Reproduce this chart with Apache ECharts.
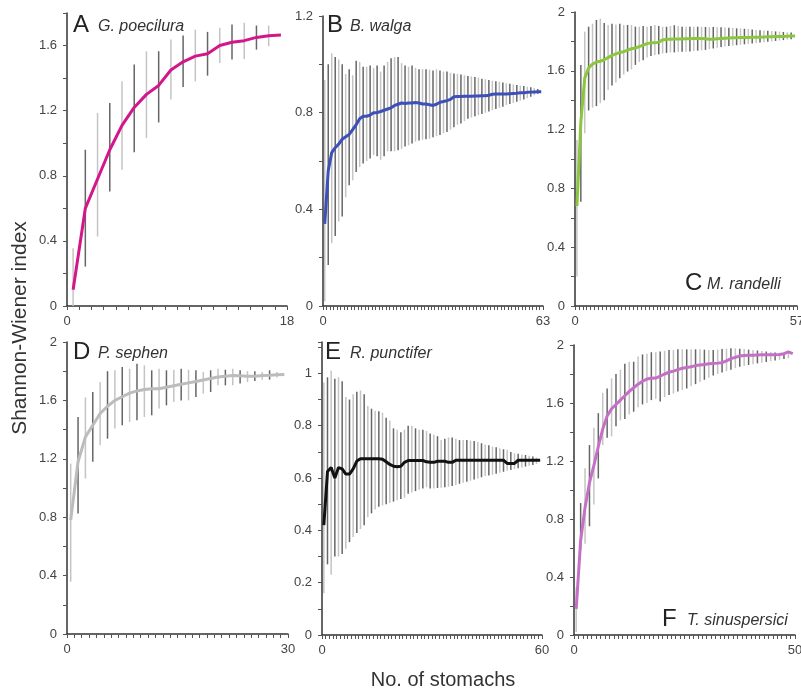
<!DOCTYPE html>
<html><head><meta charset="utf-8">
<script src="https://cdn.jsdelivr.net/npm/echarts@6/dist/echarts.min.js"></script>
<style>html,body{margin:0;padding:0;background:#fff}#c{width:801px;height:695px}</style>
</head><body><div id="c"></div>
<script>
// ---- Data (Shannon-Wiener cumulative curves; mean and error-bar ends) ----
const A_mean = [0.10,0.60,0.78,0.96,1.11,1.22,1.30,1.355,1.45,1.50,1.535,1.55,1.60,1.62,1.63,1.65,1.66,1.665];
const A_hi = [0.355,0.96,1.186,1.247,1.38,1.483,1.565,1.565,1.637,1.662,1.698,1.684,1.709,1.729,1.74,1.723,1.723];
const A_lo = [0.0,0.242,0.427,0.704,0.837,0.944,1.032,1.128,1.268,1.346,1.38,1.415,1.493,1.514,1.518,1.575,1.596];

const B_mean = [0.34,0.56,0.635,0.655,0.67,0.69,0.70,0.71,0.73,0.75,
 0.775,0.785,0.785,0.79,0.80,0.80,0.805,0.81,0.815,0.82,
 0.83,0.835,0.84,0.838,0.84,0.84,0.842,0.84,0.836,0.836,
 0.833,0.83,0.835,0.843,0.846,0.85,0.855,0.866,0.867,0.867,
 0.868,0.868,0.868,0.869,0.869,0.87,0.87,0.872,0.876,0.877,
 0.877,0.877,0.877,0.878,0.879,0.88,0.882,0.882,0.884,0.885,
 0.886,0.887,0.887];
const B_hi = [0.935,1.00,1.045,1.03,1.02,1.00,0.96,0.98,0.955,1.015,
 1.01,0.99,0.99,0.995,0.985,0.995,0.97,0.995,1.01,1.025,
 1.03,1.03,1.005,0.995,0.99,0.995,0.985,0.98,0.98,0.98,
 0.978,0.975,0.98,0.975,0.97,0.97,0.965,0.962,0.96,0.958,
 0.955,0.952,0.95,0.948,0.945,0.94,0.938,0.935,0.932,0.93,
 0.928,0.925,0.922,0.92,0.917,0.914,0.912,0.91,0.907,0.905,0.902,0.898];
const B_lo = [0.02,0.17,0.26,0.29,0.35,0.37,0.45,0.50,0.52,0.555,
 0.575,0.59,0.60,0.61,0.625,0.62,0.605,0.62,0.64,0.64,
 0.64,0.645,0.65,0.66,0.665,0.672,0.68,0.685,0.688,0.69,
 0.692,0.698,0.703,0.708,0.715,0.72,0.73,0.74,0.75,0.755,
 0.765,0.775,0.78,0.785,0.79,0.795,0.80,0.805,0.81,0.815,
 0.82,0.825,0.832,0.836,0.84,0.845,0.85,0.855,0.86,0.866,0.872,0.878];

const C_mean = [0.68,1.25,1.55,1.62,1.645,1.66,1.665,1.675,1.69,1.705,
 1.715,1.725,1.73,1.74,1.75,1.755,1.765,1.775,1.785,1.79,
 1.79,1.795,1.81,1.815,1.815,1.816,1.817,1.817,1.818,1.818,
 1.82,1.82,1.82,1.818,1.815,1.814,1.818,1.82,1.822,1.823,
 1.824,1.825,1.826,1.826,1.827,1.828,1.828,1.829,1.83,1.831,
 1.832,1.833,1.834,1.834,1.835,1.836,1.837];
const C_hi = [1.13,1.64,1.866,1.90,1.92,1.946,1.955,1.925,1.912,1.92,
 1.915,1.92,1.912,1.912,1.912,1.90,1.90,1.905,1.90,1.905,
 1.912,1.905,1.90,1.90,1.905,1.91,1.905,1.90,1.90,1.90,
 1.90,1.90,1.90,1.898,1.898,1.898,1.897,1.897,1.895,1.893,
 1.891,1.889,1.888,1.886,1.884,1.881,1.878,1.876,1.874,1.872,
 1.87,1.868,1.866,1.864,1.862,1.86];
const C_lo = [0.20,0.71,1.175,1.33,1.35,1.36,1.38,1.40,1.47,1.50,
 1.52,1.55,1.575,1.595,1.61,1.64,1.66,1.672,1.69,1.70,
 1.707,1.712,1.718,1.722,1.725,1.725,1.728,1.73,1.73,1.732,
 1.735,1.737,1.74,1.742,1.748,1.752,1.757,1.762,1.765,1.768,
 1.771,1.774,1.777,1.78,1.783,1.786,1.789,1.792,1.795,1.798,
 1.80,1.803,1.806,1.809,1.812,1.815];

const D_mean = [0.78,1.18,1.35,1.43,1.51,1.56,1.60,1.625,1.65,1.665,
 1.675,1.68,1.68,1.69,1.70,1.71,1.72,1.73,1.74,1.75,
 1.76,1.765,1.77,1.768,1.765,1.765,1.77,1.772,1.775,1.778];
const D_hi = [1.167,1.487,1.62,1.657,1.726,1.80,1.806,1.829,1.817,1.851,
 1.84,1.806,1.817,1.806,1.81,1.817,1.81,1.806,1.794,1.806,
 1.817,1.81,1.817,1.806,1.80,1.80,1.794,1.806,1.794];
const D_lo = [0.358,0.825,1.065,1.18,1.293,1.338,1.407,1.43,1.452,1.464,
 1.486,1.498,1.544,1.566,1.589,1.60,1.60,1.623,1.646,1.657,
 1.703,1.703,1.703,1.715,1.726,1.733,1.742,1.742,1.756];

const E_mean = [0.42,0.625,0.64,0.60,0.64,0.635,0.615,0.615,0.635,0.665,
 0.674,0.674,0.674,0.674,0.674,0.674,0.672,0.662,0.652,0.645,
 0.643,0.645,0.66,0.667,0.667,0.667,0.667,0.667,0.662,0.66,
 0.66,0.664,0.664,0.664,0.66,0.66,0.668,0.668,0.668,0.668,
 0.668,0.668,0.668,0.668,0.668,0.668,0.668,0.668,0.668,0.668,
 0.656,0.656,0.656,0.668,0.668,0.668,0.668,0.668,0.668,0.668];
const E_hi = [0.965,0.985,1.01,0.98,0.985,0.97,0.91,0.90,0.92,0.93,
 0.935,0.92,0.875,0.865,0.857,0.855,0.85,0.83,0.82,0.79,
 0.785,0.775,0.785,0.80,0.80,0.79,0.785,0.785,0.78,0.77,
 0.765,0.76,0.745,0.75,0.755,0.755,0.75,0.745,0.745,0.745,
 0.743,0.742,0.738,0.733,0.728,0.725,0.72,0.718,0.714,0.71,
 0.708,0.70,0.695,0.693,0.69,0.688,0.685,0.682,0.678];
const E_lo = [0.16,0.27,0.23,0.30,0.30,0.31,0.33,0.355,0.375,0.39,
 0.405,0.42,0.45,0.465,0.48,0.49,0.495,0.50,0.505,0.51,
 0.515,0.52,0.525,0.54,0.545,0.55,0.555,0.56,0.565,0.56,
 0.56,0.562,0.563,0.565,0.567,0.57,0.573,0.578,0.582,0.586,
 0.59,0.594,0.598,0.603,0.608,0.61,0.613,0.616,0.62,0.624,
 0.628,0.631,0.634,0.637,0.64,0.644,0.647,0.65,0.654];

const F_mean = [0.18,0.65,0.88,1.05,1.17,1.30,1.42,1.51,1.56,1.59,
 1.62,1.65,1.68,1.705,1.73,1.75,1.765,1.77,1.772,1.785,
 1.80,1.812,1.82,1.83,1.84,1.845,1.85,1.858,1.862,1.866,
 1.87,1.873,1.875,1.878,1.89,1.906,1.915,1.924,1.927,1.929,
 1.93,1.931,1.932,1.932,1.932,1.933,1.935,1.94,1.952,1.94];
const F_hi = [0.33,0.91,1.15,1.31,1.43,1.53,1.67,1.70,1.77,1.80,
 1.83,1.87,1.885,1.885,1.92,1.935,1.94,1.95,1.95,1.955,
 1.96,1.965,1.965,1.97,1.97,1.97,1.97,1.97,1.97,1.968,
 1.966,1.965,1.968,1.972,1.975,1.977,1.977,1.975,1.972,1.968,
 1.965,1.962,1.958,1.955,1.952,1.948,1.945,1.945,1.948];
const F_lo = [0.02,0.59,0.63,0.75,0.90,1.08,1.31,1.36,1.37,1.44,
 1.48,1.49,1.52,1.54,1.57,1.59,1.60,1.62,1.63,1.61,
 1.64,1.655,1.665,1.68,1.69,1.70,1.715,1.73,1.745,1.76,
 1.775,1.79,1.80,1.81,1.82,1.83,1.84,1.85,1.856,1.862,
 1.868,1.873,1.878,1.883,1.888,1.893,1.898,1.903,1.908];

const letters = ['A','B','C','D','E','F'];
const species = ['G. poecilura','B. walga','M. randelli','P. sephen','R. punctifer','T. sinuspersici'];
const yMax = [1.8,1.2,2,2,1.12,2];
const yTick = [0.2,0.2,0.2,0.2,0.1,0.2];
const yLabelStep = [0.4,0.4,0.4,0.4,0.2,0.4];
const yTitle = 'Shannon-Wiener index';
const xTitle = 'No. of stomachs';

// ---- Layout / style ----
const means = [A_mean,B_mean,C_mean,D_mean,E_mean,F_mean];
const his = [A_hi,B_hi,C_hi,D_hi,E_hi,F_hi];
const los = [A_lo,B_lo,C_lo,D_lo,E_lo,F_lo];
const colors = ['#d4168b','#3d4fb8','#8cc63e','#bcbcbc','#111111','#c56fc6'];
const gridPos = [
  {left:67, top:13, width:220, height:293},
  {left:323, top:16, width:220, height:290},
  {left:575, top:12, width:222, height:294},
  {left:67, top:342, width:221, height:292},
  {left:322, top:342, width:220, height:293},
  {left:574, top:345, width:221, height:290}
];
const labelPos = [
  {lx:73, ly:25, sx:98, sy:27},
  {lx:327, ly:25, sx:350, sy:27},
  {lx:685, ly:283, sx:707, sy:285},
  {lx:73, ly:352, sx:98, sy:354},
  {lx:325, ly:352, sx:350, sy:354},
  {lx:662, ly:619, sx:687, sy:621}
];
const FONT = '"Liberation Sans", Arial, Helvetica, sans-serif';

const grids=[], xAxes=[], yAxes=[], series=[], graphics=[];
means.forEach((mean,i)=>{
  const n = mean.length;
  grids.push(Object.assign({containLabel:false, outerBoundsMode:'none'}, gridPos[i]));
  xAxes.push({
    type:'value', gridIndex:i, min:0, max:n, interval:1,
    axisLine:{show:true, onZero:false, lineStyle:{color:'#333', width:1.5}},
    axisTick:{show:true, length:4, lineStyle:{color:'#555', width:1}},
    axisLabel:{margin:9, color:'#444', fontSize:13, fontFamily:FONT,
      formatter:v => (v===0 || v===n) ? String(v) : ''},
    splitLine:{show:false}
  });
  const step = yLabelStep[i];
  yAxes.push({
    type:'value', gridIndex:i, min:0, max:yMax[i], interval:yTick[i],
    axisLine:{show:true, onZero:false, lineStyle:{color:'#333', width:1.5}},
    axisTick:{show:true, length:4, lineStyle:{color:'#555', width:1}},
    axisLabel:{margin:10, color:'#444', fontSize:13, fontFamily:FONT,
      formatter:v => { const r=v/step; return Math.abs(r-Math.round(r))<1e-6 ? String(+v.toFixed(2)) : ''; }},
    splitLine:{show:false}
  });
  series.push({
    type:'custom', xAxisIndex:i, yAxisIndex:i, silent:true, z:1,
    encode:{x:0, y:[1,2]},
    data: los[i].map((lo,k)=>[k+0.5, lo, his[i][k]]),
    renderItem:(params, api)=>{
      const x = api.value(0);
      const p0 = api.coord([x, api.value(1)]);
      const p1 = api.coord([x, api.value(2)]);
      return {type:'line', shape:{x1:p0[0], y1:p0[1], x2:p1[0], y2:p1[1]},
        style:{stroke: params.dataIndex % 2 ? '#666666' : '#c4c4c4', lineWidth:1.5}};
    }
  });
  series.push({
    type:'line', xAxisIndex:i, yAxisIndex:i, silent:true, z:3,
    data: mean.map((m,k)=>[k+0.5, m]),
    showSymbol:false, symbol:'none',
    lineStyle:{color:colors[i], width:3}
  });
  const lp = labelPos[i];
  graphics.push({type:'text', x:lp.lx, y:lp.ly, style:{text:letters[i], font:'24px '+FONT, fill:'#222', textAlign:'left', textVerticalAlign:'middle'}});
  graphics.push({type:'text', x:lp.sx, y:lp.sy, style:{text:species[i], font:'italic 16px '+FONT, fill:'#333', textAlign:'left', textVerticalAlign:'middle'}});
});
graphics.push({type:'text', x:20, y:328, rotation:Math.PI/2, style:{text:yTitle, font:'21px '+FONT, fill:'#333', textAlign:'center', textVerticalAlign:'middle'}});
graphics.push({type:'text', x:443, y:680, style:{text:xTitle, font:'20px '+FONT, fill:'#333', textAlign:'center', textVerticalAlign:'middle'}});

const chart = echarts.init(document.getElementById('c'), null, {renderer:'canvas'});
chart.setOption({
  animation:false,
  backgroundColor:'#fff',
  grid:grids, xAxis:xAxes, yAxis:yAxes, series:series, graphic:graphics
});
</script></body></html>
